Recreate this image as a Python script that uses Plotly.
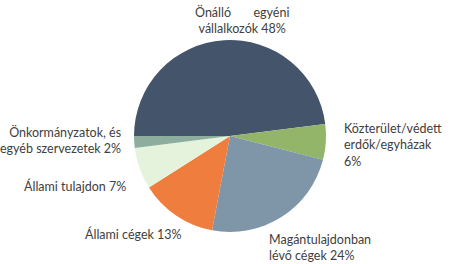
import plotly.graph_objects as go

W, H = 450, 264
categories = ["Önálló egyéni vállalkozók", "Közterület/védett erdők/egyházak",
              "Magántulajdonban lévő cégek", "Állami cégek", "Állami tulajdon",
              "Önkormányzatok, és egyéb szervezetek"]
values = [48, 6, 24, 13, 7, 2]
colors = ["#44546A", "#93B569", "#7F96A9", "#EE7D3E", "#E6F3DC", "#8DAE9E"]
label_texts = ["Önálló&nbsp;&nbsp;&nbsp;&nbsp;&nbsp;&nbsp;&nbsp;egyéni<br>vállalkozók 48%",
               "Közterület/védett<br>erdők/egyházak<br>6%",
               "Magántulajdonban<br>lévő cégek 24%",
               "Állami cégek 13%",
               "Állami tulajdon 7%",
               "Önkormányzatok, és<br>egyéb szervezetek 2%"]
# label anchor positions in pixels (x, y, xanchor, align)
label_pos = [(242, 20, "center", "center"),
             (342, 145, "left", "left"),
             (267, 247, "left", "left"),
             (133, 234, "center", "center"),
             (128, 186, "right", "right"),
             (123, 140, "right", "right")]

cx, cy, r = 230, 136, 96
fig = go.Figure(go.Pie(
    labels=categories, values=values, sort=False, direction="clockwise",
    rotation=270, marker=dict(colors=colors, line=dict(width=0)),
    textinfo="none", hoverinfo="label+percent", showlegend=False,
    domain=dict(x=[(cx - r) / W, (cx + r) / W], y=[1 - (cy + r) / H, 1 - (cy - r) / H]),
))
for t, (x, y, xa, al) in zip(label_texts, label_pos):
    fig.add_annotation(text=t, x=x / W, y=1 - y / H, xref="paper", yref="paper",
                       xanchor=xa, yanchor="middle", align=al, showarrow=False,
                       font=dict(family="Lato", size=12.5, color="#404040"))
fig.update_layout(width=W, height=H, margin=dict(l=0, r=0, t=0, b=0),
                  paper_bgcolor="white", plot_bgcolor="white")
fig.write_html("out.html")
